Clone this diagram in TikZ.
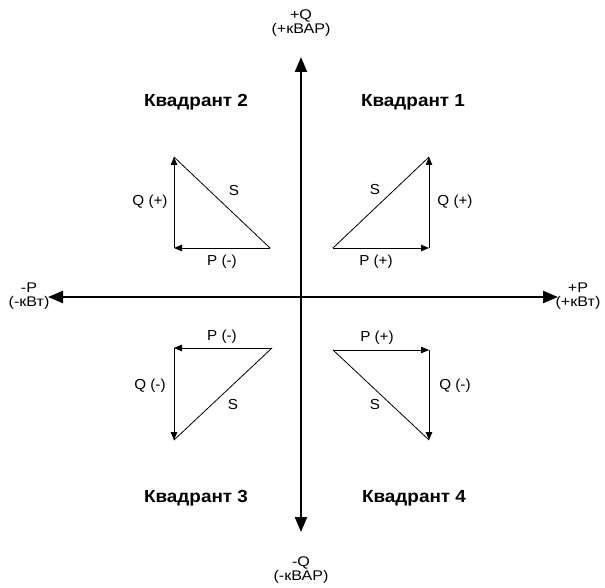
\documentclass[tikz,border=0pt]{standalone}
\usepackage{fontspec}
\setmainfont{Liberation Sans}
\usetikzlibrary{arrows.meta}
\begin{document}
\begin{tikzpicture}[x=1pt,y=-1pt,
  axis/.style={line width=2.4pt,-{Triangle[length=15pt,width=12pt]}},
  vec/.style={line width=0.8pt,-{Triangle[length=8pt,width=6.5pt]}},
  hyp/.style={line width=0.8pt},
  lbl/.style={font=\fontsize{14.5}{16}\selectfont,inner sep=1pt,xscale=1.05},
  axlbl/.style={font=\fontsize{14}{14}\selectfont,align=center,inner sep=0pt,xscale=1.15},
  quad/.style={font=\fontsize{17.5}{19}\selectfont\bfseries,inner sep=1pt,xscale=1.08}]
\useasboundingbox (0,0) rectangle (605,588);
% axes
\coordinate (O) at (301,297);
\coordinate (Top) at (301,57);
\coordinate (Bot) at (301,532);
\coordinate (Lft) at (48,297);
\coordinate (Rgt) at (558,297);
\draw[axis] (O) -- (Top);
\draw[axis] (O) -- (Bot);
\draw[axis] (O) -- (Lft);
\draw[axis] (O) -- (Rgt);
\node[axlbl] (tq) at (301,23) {+Q\\(+кВАР)};
\node[axlbl] (bq) at (301,570) {-Q\\(-кВАР)};
\node[axlbl] (lp) at (29,296) {-P\\(-кВт)};
\node[axlbl] (rp) at (578,296) {+P\\(+кВт)};
% quadrant titles
\node[quad] (q1) at (413,102) {Квадрант 1};
\node[quad] (q2) at (196,102) {Квадрант 2};
\node[quad] (q3) at (196,498) {Квадрант 3};
\node[quad] (q4) at (414,498) {Квадрант 4};
% Q1 triangle
\coordinate (a1) at (333,248);
\coordinate (b1) at (429,248);
\coordinate (c1) at (429,157);
\draw[vec] (a1) -- (b1);
\draw[vec] (b1) -- (c1);
\draw[hyp] (a1) -- (c1);
\node[lbl] (s1) at (375,190) {S};
\node[lbl] (qq1) at (455,202) {Q (+)};
\node[lbl] (pp1) at (376,262) {P (+)};
% Q2 triangle
\coordinate (a2) at (270,248);
\coordinate (b2) at (174,248);
\coordinate (c2) at (174,157);
\draw[vec] (a2) -- (b2);
\draw[vec] (b2) -- (c2);
\draw[hyp] (a2) -- (c2);
\node[lbl] (s2) at (234,191) {S};
\node[lbl] (qq2) at (150,202) {Q (+)};
\node[lbl] (pp2) at (222,262) {P (-)};
% Q3 triangle
\coordinate (a3) at (272,348);
\coordinate (b3) at (174,348);
\coordinate (c3) at (174,440);
\draw[vec] (a3) -- (b3);
\draw[vec] (b3) -- (c3);
\draw[hyp] (a3) -- (c3);
\node[lbl] (s3) at (233,405) {S};
\node[lbl] (qq3) at (150,386) {Q (-)};
\node[lbl] (pp3) at (222,337) {P (-)};
% Q4 triangle
\coordinate (a4) at (333,350);
\coordinate (b4) at (429,350);
\coordinate (c4) at (429,440);
\draw[vec] (a4) -- (b4);
\draw[vec] (b4) -- (c4);
\draw[hyp] (a4) -- (c4);
\node[lbl] (s4) at (375,405) {S};
\node[lbl] (qq4) at (455,386) {Q (-)};
\node[lbl] (pp4) at (377,338) {P (+)};
\end{tikzpicture}
\end{document}
